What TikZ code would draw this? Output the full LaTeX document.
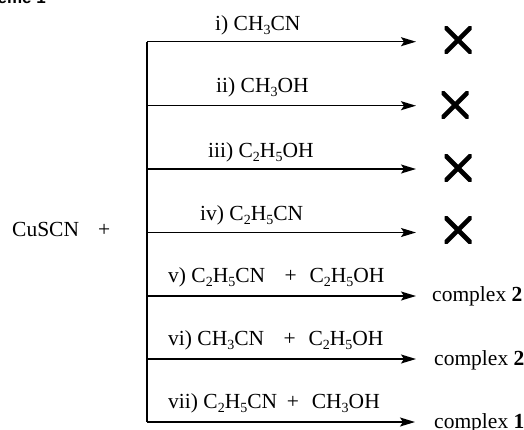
\documentclass[tikz,border=0pt]{standalone}
\usepackage{fontspec}
\setmainfont{Liberation Serif}
\newfontfamily\headfont{Liberation Sans}
\usetikzlibrary{arrows.meta}
\newcommand{\chsub}[1]{\raisebox{-4.5pt}{\fontsize{14}{14}\selectfont #1}}
\tikzset{
  rxn/.style={line width=1.4pt, -{Stealth[length=15pt,width=9pt,inset=3pt]}},
  spine/.style={line width=1.4pt},
  cond/.style={anchor=base west, inner sep=0pt, font=\fontsize{21.5}{24}\selectfont},
  prod/.style={anchor=base west, inner sep=0pt, font=\fontsize{21.5}{24}\selectfont},
  nogo/.style={minimum size=27pt, inner sep=0pt,
    path picture={\draw[line width=4.6pt]
      (path picture bounding box.north west) -- (path picture bounding box.south east)
      (path picture bounding box.south west) -- (path picture bounding box.north east);}}
}
\begin{document}
\begin{tikzpicture}[x=1pt,y=-1pt]
\useasboundingbox (0,0) rectangle (524,429);
\begin{scope}
\clip (0,0) rectangle (524,429);
\node[anchor=base east, inner sep=0pt, font=\headfont\bfseries\fontsize{17}{20}\selectfont] (title) at (46,3.5) {Scheme 1};
\end{scope}

\node[cond] (reagent) at (12,236) {CuSCN};
\node[cond] (plus) at (98,236) {+};

% branch points on the vertical line
\coordinate (b1) at (147,41.7);
\coordinate (b2) at (147,105.7);
\coordinate (b3) at (147,169);
\coordinate (b4) at (147,232.5);
\coordinate (b5) at (147,296);
\coordinate (b6) at (147,359);
\coordinate (b7) at (147,422);
\coordinate (e1) at (416,41.7);
\coordinate (e2) at (416,105.7);
\coordinate (e3) at (416,169);
\coordinate (e4) at (416,232.5);
\coordinate (e5) at (416,296);
\coordinate (e6) at (416,359);
\coordinate (e7) at (415,422);

\draw[spine] (b1) -- (b7);
\foreach \i in {1,...,7}{\draw[rxn] (b\i) -- (e\i);}

% conditions
\node[cond] (c1) at (215,30) {i) CH\chsub{3}CN};
\node[cond] (c2) at (216,92) {ii) CH\chsub{3}OH};
\node[cond] (c3) at (208,157) {iii) C\chsub{2}H\chsub{5}OH};
\node[cond] (c4) at (200,220) {iv) C\chsub{2}H\chsub{5}CN};
\node[cond] (c5) at (168,282) {v) C\chsub{2}H\chsub{5}CN\hspace{0.9em}+\hspace{0.6em}C\chsub{2}H\chsub{5}OH};
\node[cond] (c6) at (168,345) {vi) CH\chsub{3}CN\hspace{0.9em}+\hspace{0.6em}C\chsub{2}H\chsub{5}OH};
\node[cond] (c7) at (168,408) {vii) C\chsub{2}H\chsub{5}CN\hspace{0.45em}+\hspace{0.6em}CH\chsub{3}OH};

% outcomes
\node[nogo] (x1) at (458,40) {};
\node[nogo] (x2) at (455,105) {};
\node[nogo] (x3) at (458,168) {};
\node[nogo] (x4) at (458,230) {};
\node[prod] (p5) at (432,301) {complex \textbf{2}};
\node[prod] (p6) at (434,365) {complex \textbf{2}};
\node[prod] (p7) at (434,428) {complex \textbf{1}};
\end{tikzpicture}
\end{document}
